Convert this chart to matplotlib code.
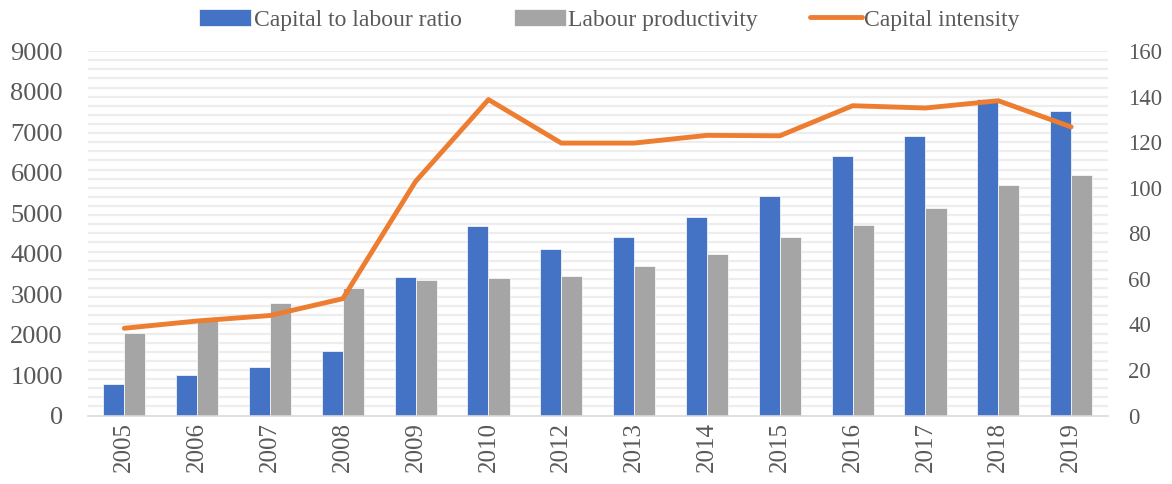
import matplotlib

matplotlib.use("Agg")
import matplotlib.pyplot as plt
import numpy as np

plt.rcParams["font.family"] = ["Liberation Serif", "DejaVu Serif"]

years = ["2005", "2006", "2007", "2008", "2009", "2010", "2012",
         "2013", "2014", "2015", "2016", "2017", "2018", "2019"]
capital_labour = [775, 995, 1205, 1600, 3430, 4670, 4110,
                  4405, 4910, 5410, 6400, 6910, 7825, 7530]
labour_prod = [2030, 2395, 2790, 3150, 3335, 3385, 3435,
               3690, 3995, 4405, 4705, 5125, 5685, 5940]
capital_intensity = [38.3, 41.5, 43.9, 51.3, 102.8, 138.7, 119.6,
                     119.6, 123.0, 122.8, 136.0, 135.0, 138.2, 126.7]

BLUE = "#4472C4"
GRAY = "#A5A5A5"
ORANGE = "#ED7D31"
TXT = "#595959"

fig = plt.figure(figsize=(11.72, 4.84), dpi=100)
ax = fig.add_axes([0.075, 0.1415, 0.87, 0.753])
ax2 = ax.twinx()

x = np.arange(len(years))
w = 0.29
ax.bar(x - w / 2, capital_labour, w, color=BLUE, edgecolor="white", linewidth=0.5,
       label="Capital to labour ratio", zorder=2)
ax.bar(x + w / 2, labour_prod, w, color=GRAY, edgecolor="white", linewidth=0.5,
       label="Labour productivity", zorder=2)
ax2.plot(x, capital_intensity, color=ORANGE, lw=3.5, solid_capstyle="round",
         label="Capital intensity", zorder=3)

ax.set_ylim(0, 9000)
ax2.set_ylim(0, 160)
ax.set_xlim(-0.5, len(years) - 0.5)
ax.set_yticks(range(0, 9001, 1000))
ax2.set_yticks(range(0, 161, 20))

# dense light grid (every 4 units of the right axis)
for g in np.linspace(0, 9000, 41)[1:]:
    ax.axhline(g, color="#EDEDED", lw=1.6, zorder=0)

ax.set_xticks(x)
ax.set_xticklabels(years, rotation=90)
for a in (ax, ax2):
    for s in a.spines.values():
        s.set_visible(False)
    a.tick_params(length=0, colors=TXT)
ax.tick_params(axis="x", labelsize=18, pad=5)
ax.tick_params(axis="y", labelsize=19, pad=18)
ax2.tick_params(axis="y", labelsize=16.5, pad=15)
ax.spines["bottom"].set_visible(True)
ax.spines["bottom"].set_color("#D9D9D9")
ax.spines["bottom"].set_linewidth(1.2)

h1, l1 = ax.get_legend_handles_labels()
h2, l2 = ax2.get_legend_handles_labels()
fig.legend(h1 + h2, l1 + l2, loc="upper center", bbox_to_anchor=(0.52, 1.025), ncol=3,
           frameon=False, fontsize=17, labelcolor=TXT, handlelength=2.2,
           handletextpad=0.1, columnspacing=2.2)

fig.savefig("out.png", dpi=100)
